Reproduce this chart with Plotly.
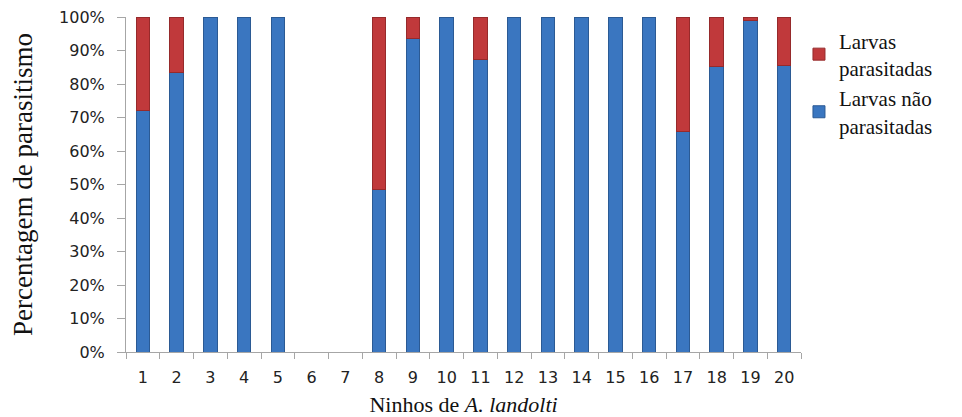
import plotly.graph_objects as go

# Nests of A. landolti and share of larvae (%) in each
ninhos = [str(i) for i in range(1, 21)]
nao_parasitadas = [72, 83.4, 100, 100, 100, 0, 0, 48.6, 93.6, 100,
                   87.2, 100, 100, 100, 100, 100, 65.8, 85.2, 99.1, 85.5]
parasitadas = [28, 16.6, 0, 0, 0, 0, 0, 51.4, 6.4, 0,
               12.8, 0, 0, 0, 0, 0, 34.2, 14.8, 0.9, 14.5]

y_ticks = [0, 10, 20, 30, 40, 50, 60, 70, 80, 90, 100]
y_tick_text = [f"{v}%" for v in y_ticks]

SERIF = "Liberation Serif"
SANS = "DejaVu Sans"

# empty segments are left out so no zero-height outlines are drawn
def drop_zero(values):
    return [v if v > 0 else None for v in values]

fig = go.Figure()
fig.add_trace(go.Bar(
    x=ninhos, y=drop_zero(nao_parasitadas), name="Larvas não<br>parasitadas",
    marker=dict(color="#3a76c0", line=dict(color="#2b5a94", width=1)),
    width=0.4,
))
fig.add_trace(go.Bar(
    x=ninhos, y=drop_zero(parasitadas), name="Larvas<br>parasitadas",
    marker=dict(color="#c0393b", line=dict(color="#962a2b", width=1)),
    width=0.4,
))

fig.update_layout(
    barmode="stack",
    width=962, height=417,
    margin=dict(l=126, r=161, t=17, b=65),
    paper_bgcolor="white", plot_bgcolor="white",
    font=dict(family=SERIF, color="#111111"),
    showlegend=True,
    legend=dict(
        x=0.997, y=0.99, xanchor="left", yanchor="top",
        traceorder="reversed",
        font=dict(family=SERIF, size=21, color="#111111"),
        itemwidth=30, tracegroupgap=6,
    ),
    xaxis=dict(
        type="category", automargin=False,
        showline=True, linecolor="#a6a6a6", linewidth=1,
        ticks="outside", tickson="boundaries", ticklen=6, tickcolor="#a6a6a6",
        ticklabelstandoff=11,
        tickfont=dict(family=SANS, size=16, color="#222222"),
        showgrid=False,
        title=dict(text="Ninhos de <i>A. landolti</i>",
                   font=dict(family=SERIF, size=22, color="#111111"),
                   standoff=10),
    ),
    yaxis=dict(
        range=[0, 100], automargin=False,
        tickvals=y_ticks, ticktext=y_tick_text,
        showline=True, linecolor="#a6a6a6", linewidth=1,
        ticks="outside", ticklen=8, tickcolor="#a6a6a6",
        ticklabelstandoff=9,
        tickfont=dict(family=SANS, size=16, color="#222222"),
        showgrid=False, zeroline=False,
        title=dict(text="Percentagem de parasitismo",
                   font=dict(family=SERIF, size=27, color="#111111"),
                   standoff=18),
    ),
)

fig.write_html("out.html")
